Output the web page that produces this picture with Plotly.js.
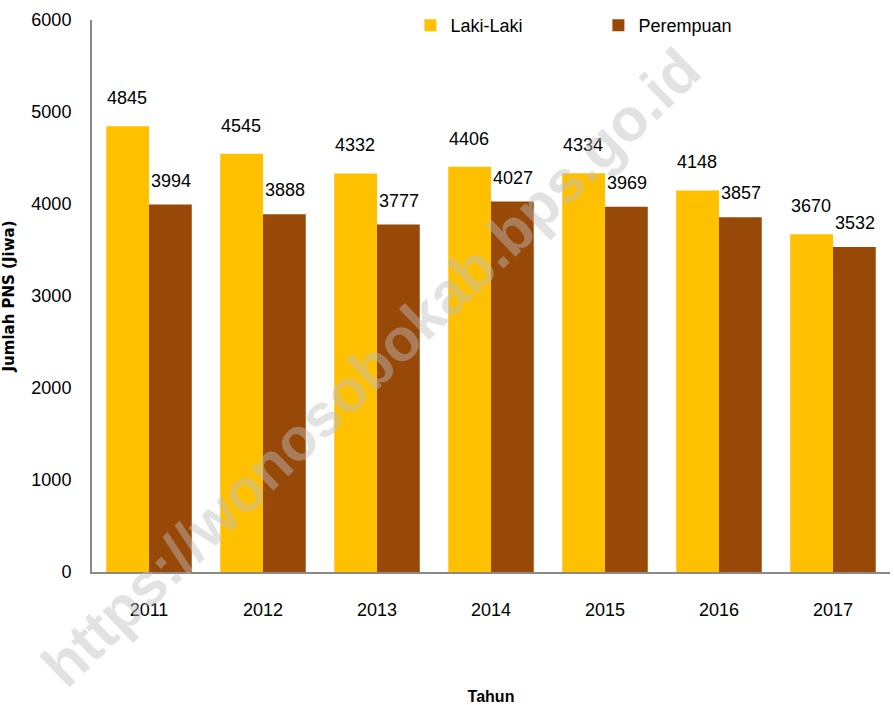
<!DOCTYPE html>
<html><head><meta charset="utf-8">
<script src="https://cdn.plot.ly/plotly-3.0.1.min.js"></script>
<style>body{margin:0;background:#fff}#c{width:894px;height:705px}</style>
</head><body><div id="c"></div>
<script>
const years = ['2011','2012','2013','2014','2015','2016','2017'];
const lakiLaki = [4845, 4545, 4332, 4406, 4334, 4148, 3670];
const perempuan = [3994, 3888, 3777, 4027, 3969, 3857, 3532];
const yTicks = [0,1000,2000,3000,4000,5000,6000];
const F = '"Liberation Sans Narrow", "Liberation Sans", Arial, sans-serif';
const traces = [
  {type:'bar', name:'Laki-Laki', x:years, y:lakiLaki, marker:{color:'#FFC000'}},
  {type:'bar', name:'Perempuan', x:years, y:perempuan, marker:{color:'#984807'}}
];
const barOffset = 21.4;
const labelAnns = [];
years.forEach((yr, i) => {
  labelAnns.push({x:i, y:lakiLaki[i], xref:'x', yref:'y', text:String(lakiLaki[i]),
    showarrow:false, xshift:-barOffset-1, yshift:16, yanchor:'bottom',
    font:{family:F,size:18,color:'#000'}});
  labelAnns.push({x:i, y:perempuan[i], xref:'x', yref:'y', text:String(perempuan[i]),
    showarrow:false, xshift:barOffset+1, yshift:12, yanchor:'bottom',
    font:{family:F,size:18,color:'#000'}});
});
const layout = {
  width:894, height:705,
  margin:{l:92, r:4, t:20, b:133},
  paper_bgcolor:'#fff', plot_bgcolor:'#fff',
  barmode:'group', bargap:0.25, bargroupgap:0,
  font:{family:F, size:18, color:'#000'},
  showlegend:true,
  legend:{orientation:'h', x:0.399, y:0.99, xanchor:'left', yanchor:'middle',
          font:{family:F,size:18}, entrywidth:143, entrywidthmode:'pixels',
          itemwidth:30, bgcolor:'rgba(0,0,0,0)'},
  xaxis:{type:'category', range:[-0.5, 6.5], autorange:false, showline:true, linecolor:'#898989', linewidth:2,
         ticks:'', tickfont:{family:F,size:18}, ticklabelstandoff:20,
         title:{text:'Tahun', font:{family:'"Liberation Sans", Arial, sans-serif',size:16,weight:'bold'}, standoff:72}},
  yaxis:{range:[0,6000], autorange:false, tickvals:yTicks, showgrid:false, zeroline:false,
         showline:true, linecolor:'#898989', linewidth:2, ticks:'',
         tickfont:{family:F,size:18}, ticklabelstandoff:15,
         title:{text:'Jumlah PNS (Jiwa)', font:{family:'"DejaVu Sans", sans-serif',size:15,weight:'bold'}, standoff:24}},
  annotations:labelAnns.concat([{text:'https://wonosobokab.bps.go.id', xref:'paper', yref:'paper',
    x:0.35, y:0.37, xanchor:'center', yanchor:'middle', showarrow:false, textangle:-44,
    font:{family:'"Liberation Sans", Arial, sans-serif', size:60, weight:'bold', color:'rgba(190,190,190,0.45)'}}])
};
Plotly.newPlot('c', traces, layout, {displayModeBar:false, staticPlot:true});
</script></body></html>
